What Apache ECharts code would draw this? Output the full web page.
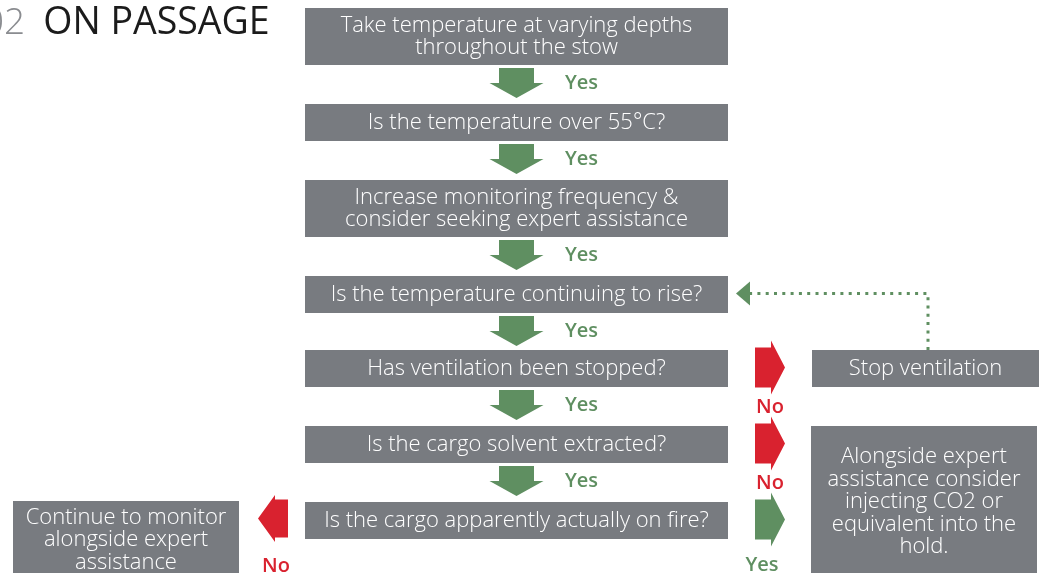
<!DOCTYPE html>
<html>
<head>
<meta charset="utf-8">
<script src="https://cdn.jsdelivr.net/npm/echarts@6/dist/echarts.min.js"></script>
<style>
  html, body { margin: 0; padding: 0; background: #fff; }
  #chartId { width: 1048px; height: 573px; }
</style>
</head>
<body>
<div id="chartId"></div>
<script>
// 流程数据
const titleNum = '02';
const titleText = 'ON PASSAGE';
const steps = [
  'Take temperature at varying depths\nthroughout the stow',
  'Is the temperature over 55°C?',
  'Increase monitoring frequency &\nconsider seeking expert assistance',
  'Is the temperature continuing to rise?',
  'Has ventilation been stopped?',
  'Is the cargo solvent extracted?',
  'Is the cargo apparently actually on fire?'
];
const downLabels = ['Yes', 'Yes', 'Yes', 'Yes', 'Yes', 'Yes'];
const sideActions = [
  'Stop ventilation',
  'Alongside expert\nassistance consider\ninjecting CO2 or\nequivalent into the\nhold.'
];
const sideLabels = ['No', 'No', 'Yes'];
const leftAction = 'Continue to monitor\nalongside expert\nassistance';
const leftLabel = 'No';

// 布局（像素坐标轴）
const W = 1048, H = 573;
const colL = 305, colR = 728;
const rowTop = [8, 104, 180, 276, 350, 426, 502];
const lineH = { 1: 37, 2: 57 };
const font = '"Open Sans", sans-serif';
// 颜色
const gray = '#787b80';
const green = '#5f8f61';
const red = '#d9222f';

const rowH = steps.map(s => lineH[s.split('\n').length]);
const rowMid = rowTop.map((t, i) => t + rowH[i] / 2);

// 组装图形
const shapes = [];
steps.forEach((s, i) => {
  shapes.push({ kind: 'box', x0: colL, x1: colR, y0: rowTop[i], y1: rowTop[i] + rowH[i], text: s });
});
downLabels.forEach((lab, i) => {
  const top = rowTop[i] + rowH[i] + 3;
  shapes.push({ kind: 'down', cx: (colL + colR) / 2, y0: top, y1: top + 30, color: green });
  shapes.push({ kind: 'label', x: 565, y: top + 15, text: lab, color: green, align: 'left' });
});
// 右侧分支
const sideRows = [4, 5, 6];
const sideColors = [red, red, green];
sideRows.forEach((r, k) => {
  const cy = rowMid[r] - 1;
  shapes.push({ kind: 'right', x0: 755, x1: 785, cy: cy, color: sideColors[k] });
  if (k === 2) {
    shapes.push({ kind: 'label', x: 762, y: 565, text: sideLabels[k], color: sideColors[k], align: 'center' });
  } else {
    shapes.push({ kind: 'label', x: 770, y: cy + 40, text: sideLabels[k], color: sideColors[k], align: 'center' });
  }
});
shapes.push({ kind: 'box', x0: 812, x1: 1039, y0: rowTop[4], y1: rowTop[4] + rowH[4], text: sideActions[0] });
shapes.push({ kind: 'box', x0: 811, x1: 1037, y0: rowTop[5], y1: H + 2, text: sideActions[1], ty: 502, lh: 22.5 });
// 左侧分支
shapes.push({ kind: 'left', x0: 258, x1: 288, cy: rowMid[6] - 2, color: red });
shapes.push({ kind: 'label', x: 276, y: 566, text: leftLabel, color: red, align: 'center' });
shapes.push({ kind: 'box', x0: 13, x1: 239, y0: 501, y1: H + 2, text: leftAction, ty: 540, lh: 22.5 });
// 虚线回路
shapes.push({ kind: 'loop', x: 928, y0: rowTop[4], y1: rowMid[3] - 1, x1: 750, tip: 736 });

const renderItem = (params, api) => {
  const s = shapes[params.dataIndex];
  const p = (x, y) => api.coord([x, y]);
  if (s.kind === 'box') {
    const a = p(s.x0, s.y0), b = p(s.x1, s.y1);
    const ty = s.ty !== undefined ? p(0, s.ty)[1] : (a[1] + b[1]) / 2;
    return {
      type: 'group',
      children: [
        { type: 'rect', shape: { x: a[0], y: a[1], width: b[0] - a[0], height: b[1] - a[1] }, style: { fill: gray } },
        { type: 'text', style: { text: s.text, x: (a[0] + b[0]) / 2, y: ty, align: 'center', verticalAlign: 'middle', fill: '#fff', font: '300 22px ' + font, lineHeight: s.lh || 22 } }
      ]
    };
  }
  if (s.kind === 'down') {
    const sw = 17.5, hw = 27, mid = (s.y0 + s.y1) / 2;
    const pts = [[s.cx - sw, s.y0], [s.cx + sw, s.y0], [s.cx + sw, mid], [s.cx + hw, mid], [s.cx, s.y1], [s.cx - hw, mid], [s.cx - sw, mid]].map(q => p(q[0], q[1]));
    return { type: 'polygon', shape: { points: pts }, style: { fill: s.color } };
  }
  if (s.kind === 'right') {
    const sh = 20, hh = 27, hx = 771;
    const pts = [[s.x0, s.cy - sh], [hx, s.cy - sh], [hx, s.cy - hh], [s.x1, s.cy], [hx, s.cy + hh], [hx, s.cy + sh], [s.x0, s.cy + sh]].map(q => p(q[0], q[1]));
    return { type: 'polygon', shape: { points: pts }, style: { fill: s.color } };
  }
  if (s.kind === 'left') {
    const sh = 19, hh = 23.5, hx = 275;
    const pts = [[s.x1, s.cy - sh], [hx, s.cy - sh], [hx, s.cy - hh], [s.x0, s.cy], [hx, s.cy + hh], [hx, s.cy + sh], [s.x1, s.cy + sh]].map(q => p(q[0], q[1]));
    return { type: 'polygon', shape: { points: pts }, style: { fill: s.color } };
  }
  if (s.kind === 'label') {
    const q = p(s.x, s.y);
    return { type: 'text', style: { text: s.text, x: q[0], y: q[1], align: s.align, verticalAlign: 'middle', fill: s.color, font: '600 20px ' + font } };
  }
  if (s.kind === 'loop') {
    const pts = [p(s.x, s.y0), p(s.x, s.y1), p(s.x1, s.y1)];
    const head = [p(s.x1, s.y1 - 12), p(s.x1, s.y1 + 12), p(s.tip, s.y1)];
    return {
      type: 'group',
      children: [
        { type: 'polyline', shape: { points: pts }, style: { stroke: green, lineWidth: 3, lineDash: [3, 5.3], fill: null } },
        { type: 'polygon', shape: { points: head }, style: { fill: green } }
      ]
    };
  }
  return null;
};

const myChart = echarts.init(document.getElementById('chartId'));
myChart.setOption({
  animation: false,
  title: {
    text: '{n|' + titleNum + '}{t|' + titleText + '}',
    left: -22,
    top: -1,
    textStyle: {
      rich: {
        n: { fontFamily: font, fontSize: 37, fontWeight: 300, color: '#8a8c90', padding: [0, 18, 0, 0] },
        t: { fontFamily: font, fontSize: 37.5, fontWeight: 400, color: '#1b1b1b' }
      }
    }
  },
  grid: { left: 0, right: 0, top: 0, bottom: 0 },
  xAxis: { type: 'value', min: 0, max: W, show: false },
  yAxis: { type: 'value', min: 0, max: H, inverse: true, show: false },
  series: [{
    type: 'custom',
    clip: false,
    silent: true,
    renderItem: renderItem,
    data: shapes.map((s, i) => [i])
  }]
});
</script>
</body>
</html>
